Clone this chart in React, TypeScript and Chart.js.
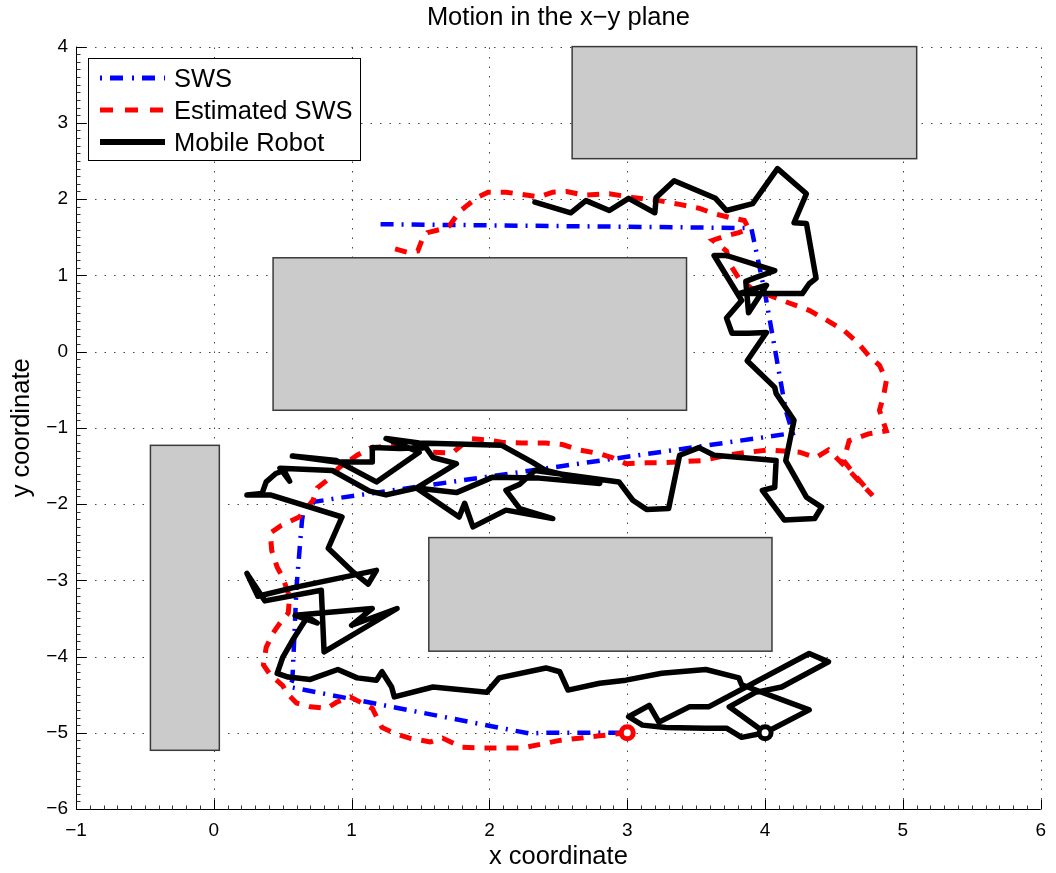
import React, { useEffect, useRef } from 'react';
import { Chart, registerables } from 'chart.js';

Chart.register(...registerables);

const FONT = "'Liberation Sans', Arial, Helvetica, sans-serif";

const xTicks = [-1, 0, 1, 2, 3, 4, 5, 6];
const yTicks = [-6, -5, -4, -3, -2, -1, 0, 1, 2, 3, 4];

// obstacles: [xMin, xMax, yMin, yMax]
const obstacles = [
  [2.6, 5.1, 2.53, 4.0],
  [0.43, 3.43, -0.77, 1.23],
  [-0.46, 0.04, -5.23, -1.23],
  [1.56, 4.05, -3.93, -2.44],
];

const swsPath = [
  [1.21, 1.67], [3.9, 1.62], [4.0, 0.76], [4.15, -0.77], [4.2, -1.07],
  [0.91, -1.92], [0.66, -1.99], [0.64, -2.21], [0.6, -3.09], [0.57, -4.31],
  [0.55, -4.4], [2.29, -5.01], [2.4, -5.0], [3.0, -5.0],
];

const estPath = [
  [3.0, -5.0], [2.8, -5.04], [2.51, -5.1], [2.24, -5.2], [2.12, -5.2], [1.95, -5.2], [1.8, -5.19],
  [1.66, -5.07], [1.57, -5.12], [1.42, -5.07], [1.3, -5.0], [1.22, -4.93], [1.15, -4.68], [0.99, -4.53],
  [0.89, -4.6], [0.82, -4.68], [0.7, -4.66], [0.6, -4.61], [0.53, -4.48], [0.5, -4.38], [0.41, -4.24],
  [0.36, -4.11], [0.38, -3.88], [0.43, -3.69], [0.48, -3.56], [0.54, -3.43], [0.55, -3.22], [0.5, -2.96],
  [0.46, -2.83], [0.42, -2.61], [0.41, -2.38], [0.49, -2.28], [0.62, -2.17], [0.72, -1.95], [0.75, -1.79],
  [0.82, -1.69], [0.91, -1.52], [1.04, -1.36], [1.13, -1.27], [1.28, -1.23], [1.4, -1.19], [1.59, -1.32],
  [1.73, -1.33], [1.86, -1.14], [1.98, -1.16], [2.09, -1.19], [2.24, -1.2], [2.41, -1.2], [2.53, -1.22],
  [2.65, -1.29], [2.8, -1.34], [2.89, -1.39], [2.99, -1.47], [3.14, -1.46], [3.25, -1.46], [3.54, -1.43],
  [3.72, -1.36], [3.88, -1.32], [4.03, -1.29], [4.25, -1.32], [4.37, -1.39], [4.46, -1.29], [4.62, -1.58],
  [4.78, -1.89], [4.67, -1.66], [4.57, -1.43], [4.61, -1.17], [4.75, -1.08], [4.88, -1.04], [4.83, -0.77],
  [4.86, -0.58], [4.88, -0.38], [4.83, -0.18], [4.75, -0.05], [4.67, 0.12], [4.57, 0.28], [4.45, 0.41],
  [4.32, 0.54], [4.17, 0.64], [4.03, 0.74], [3.9, 0.83], [3.81, 0.96], [3.75, 1.13], [3.72, 1.32],
  [3.62, 1.46], [3.7, 1.51], [3.81, 1.56], [3.88, 1.61], [3.85, 1.72], [3.76, 1.75], [3.63, 1.81],
  [3.52, 1.88], [3.38, 1.93], [3.23, 1.98], [3.04, 2.02], [2.87, 2.07], [2.69, 2.05], [2.56, 2.1],
  [2.46, 2.09], [2.36, 2.03], [2.24, 2.06], [2.12, 2.09], [1.99, 2.09], [1.91, 2.02], [1.84, 1.92],
  [1.78, 1.83], [1.71, 1.65], [1.64, 1.6], [1.55, 1.56], [1.51, 1.46], [1.48, 1.32], [1.41, 1.3],
  [1.31, 1.35], [1.25, 1.32],
];

const robotPath = [
  [4.0, -5.0], [3.83, -5.06], [3.72, -4.94], [3.57, -4.94], [3.28, -4.93], [3.11, -4.9], [3.01, -4.79],
  [3.16, -4.64], [3.23, -4.86], [3.45, -4.66], [3.59, -4.66], [4.32, -3.96], [4.46, -4.07], [4.12, -4.4],
  [3.93, -4.47], [3.74, -4.66], [4.0, -5.0], [4.32, -4.7], [3.83, -4.37], [3.81, -4.28], [3.57, -4.17],
  [3.25, -4.22], [2.99, -4.31], [2.8, -4.35], [2.57, -4.44], [2.51, -4.2], [2.41, -4.15], [2.07, -4.28],
  [1.98, -4.47], [1.59, -4.4], [1.31, -4.53], [1.29, -4.4], [1.22, -4.2], [1.18, -4.31], [1.04, -4.28],
  [0.9, -4.17], [0.7, -4.3], [0.54, -4.27], [0.46, -4.22], [0.5, -4.01], [0.57, -3.79], [0.64, -3.59],
  [0.68, -3.48], [0.75, -3.56], [0.59, -3.46], [1.15, -3.37], [1.0, -3.59], [1.33, -3.37], [0.8, -3.94],
  [0.78, -3.13], [0.37, -3.27], [0.24, -2.91], [0.32, -3.21], [0.57, -3.1], [1.18, -2.87], [1.12, -3.05],
  [1.01, -2.89], [0.83, -2.58], [0.93, -2.17], [0.41, -1.88], [0.24, -1.88], [0.35, -1.86], [0.38, -1.71],
  [0.45, -1.6], [0.51, -1.56], [0.55, -1.7], [0.48, -1.53], [0.86, -1.56], [1.13, -1.83], [1.25, -1.88],
  [1.47, -1.79], [1.76, -1.47], [1.59, -1.39], [1.54, -1.26], [1.35, -1.27], [1.15, -1.26], [1.15, -1.45],
  [0.89, -1.45], [0.57, -1.37], [0.89, -1.43], [1.18, -1.71], [1.49, -1.32], [1.25, -1.14], [1.49, -1.2],
  [2.09, -1.23], [2.31, -1.45], [2.41, -1.56], [2.8, -1.73], [2.36, -1.66], [2.02, -1.65], [1.76, -1.85],
  [1.47, -1.79], [1.78, -2.17], [1.82, -1.99], [1.88, -2.3], [2.12, -2.08], [2.46, -2.19], [2.22, -2.06],
  [2.12, -1.82], [2.22, -1.74], [2.33, -1.56], [2.94, -1.71], [3.04, -1.95], [3.14, -2.07], [3.3, -2.06],
  [3.38, -1.36], [3.52, -1.26], [3.63, -1.36], [4.08, -1.43], [4.07, -1.78], [3.98, -1.82], [4.14, -2.21],
  [4.36, -2.19], [4.41, -2.04], [4.3, -1.91], [4.15, -1.43], [4.21, -0.9], [4.08, -0.55], [4.07, -0.47],
  [3.87, -0.12], [4.01, 0.25], [3.88, 0.24], [3.76, 0.24], [3.72, 0.44], [3.83, 0.67], [3.63, 1.26],
  [3.72, 1.26], [4.07, 1.06], [3.93, 0.97], [3.86, 0.92], [3.88, 0.51], [4.01, 0.87], [3.81, 0.76],
  [4.27, 0.76], [4.32, 0.89], [4.37, 0.96], [4.3, 1.68], [4.21, 1.69], [4.3, 2.07], [4.09, 2.4],
  [3.91, 1.94], [3.72, 1.85], [3.64, 2.01], [3.34, 2.24], [3.21, 2.02], [3.2, 1.82], [3.01, 2.01],
  [2.87, 1.85], [2.7, 1.98], [2.59, 1.82], [2.33, 1.96],
];

const estStart = [[3.0, -5.0]];
const robotStart = [[4.0, -5.0]];

const legendItems = [
  { label: 'SWS', color: '#0000ff', width: 5, dash: [2, 8, 13, 9] },
  { label: 'Estimated SWS', color: '#ff0000', width: 5, dash: [13, 12] },
  { label: 'Mobile Robot', color: '#000000', width: 6, dash: [] as number[] },
];

const toPts = (arr: number[][]) => arr.map(([x, y]) => ({ x, y }));
const fmt = (v: number | string) => {
  const n = Number(v);
  return n < 0 ? '\u2212' + Math.abs(n) : String(n);
};

const decorPlugin = {
  id: 'decor',
  beforeDraw(chart: any) {
    const { ctx, width, height } = chart;
    ctx.save();
    ctx.fillStyle = '#ffffff';
    ctx.fillRect(0, 0, width, height);
    ctx.restore();
  },
  beforeDatasetsDraw(chart: any) {
    const { ctx, chartArea: a, scales } = chart;
    const xs = scales.x;
    const ys = scales.y;
    ctx.save();
    ctx.strokeStyle = '#444444';
    ctx.lineWidth = 1;
    ctx.setLineDash([1.5, 8]);
    xTicks.slice(1).forEach((v) => {
      const px = Math.round(xs.getPixelForValue(v)) + 0.5;
      ctx.beginPath();
      ctx.moveTo(px, a.bottom);
      ctx.lineTo(px, a.top);
      ctx.stroke();
    });
    yTicks.slice(1).forEach((v) => {
      const py = Math.round(ys.getPixelForValue(v)) + 0.5;
      ctx.beginPath();
      ctx.moveTo(a.left, py);
      ctx.lineTo(a.right, py);
      ctx.stroke();
    });
    ctx.setLineDash([]);
    obstacles.forEach(([x1, x2, y1, y2]) => {
      const l = xs.getPixelForValue(x1);
      const r = xs.getPixelForValue(x2);
      const t = ys.getPixelForValue(y2);
      const b = ys.getPixelForValue(y1);
      ctx.fillStyle = '#cbcbcb';
      ctx.fillRect(l, t, r - l, b - t);
      ctx.strokeStyle = '#3a3a3a';
      ctx.lineWidth = 1.5;
      ctx.strokeRect(l, t, r - l, b - t);
    });
    ctx.restore();
  },
  afterDatasetsDraw(chart: any) {
    const { ctx, chartArea: a, scales } = chart;
    const xs = scales.x;
    const ys = scales.y;
    ctx.save();
    ctx.strokeStyle = '#000000';
    ctx.lineWidth = 1;
    ctx.setLineDash([]);
    const L = Math.round(a.left) + 0.5;
    const B = Math.round(a.bottom) + 0.5;
    ctx.beginPath();
    ctx.moveTo(L, a.top);
    ctx.lineTo(L, B);
    ctx.lineTo(a.right, B);
    ctx.stroke();
    xTicks.forEach((v) => {
      const px = Math.round(xs.getPixelForValue(v)) + 0.5;
      ctx.beginPath();
      ctx.moveTo(px, B);
      ctx.lineTo(px, B - 10);
      ctx.stroke();
    });
    yTicks.forEach((v) => {
      const py = Math.round(ys.getPixelForValue(v)) + 0.5;
      ctx.beginPath();
      ctx.moveTo(L, py);
      ctx.lineTo(L + 10, py);
      ctx.stroke();
    });
    ctx.strokeStyle = '#333333';
    for (let i = 0; i <= 70; i++) {
      if (i % 10 === 0) continue;
      const px = Math.round(xs.getPixelForValue(-1 + i / 10)) + 0.5;
      ctx.beginPath();
      ctx.moveTo(px, B);
      ctx.lineTo(px, B - 4);
      ctx.stroke();
    }
    for (let i = 0; i <= 100; i++) {
      if (i % 10 === 0) continue;
      const py = Math.round(ys.getPixelForValue(-6 + i / 10)) + 0.5;
      ctx.beginPath();
      ctx.moveTo(L, py);
      ctx.lineTo(L + 4, py);
      ctx.stroke();
    }
    ctx.restore();
  },
  afterDraw(chart: any) {
    const { ctx } = chart;
    ctx.save();
    const bx = 88.5, by = 58.5, bw = 272, bh = 102;
    ctx.fillStyle = '#ffffff';
    ctx.fillRect(bx, by, bw, bh);
    ctx.strokeStyle = '#000000';
    ctx.lineWidth = 1;
    ctx.strokeRect(bx, by, bw, bh);
    const rows = [78, 110, 142];
    legendItems.forEach((it, i) => {
      const y = rows[i];
      ctx.beginPath();
      ctx.setLineDash(it.dash);
      ctx.strokeStyle = it.color;
      ctx.lineWidth = it.width;
      ctx.lineCap = 'butt';
      ctx.moveTo(100, y);
      ctx.lineTo(165, y);
      ctx.stroke();
      ctx.setLineDash([]);
      ctx.fillStyle = '#000000';
      ctx.font = `25.5px ${FONT}`;
      ctx.textAlign = 'left';
      ctx.textBaseline = 'alphabetic';
      ctx.fillText(it.label, 174, y + 9);
    });
    ctx.restore();
  },
};

export default function App() {
  const ref = useRef<HTMLCanvasElement>(null);
  useEffect(() => {
    if (!ref.current) return;
    const tickFont = { family: FONT, size: 19 };
    const labelFont = { family: FONT, size: 25.5 };
    const chart = new Chart(ref.current, {
      type: 'scatter',
      data: {
        datasets: [
          {
            label: 'start estimated',
            data: toPts(estStart),
            pointRadius: 6,
            pointBorderWidth: 5,
            pointBorderColor: '#ff0000',
            pointBackgroundColor: '#ffffff',
            order: 0,
          },
          {
            label: 'start robot',
            data: toPts(robotStart),
            pointRadius: 6,
            pointBorderWidth: 5,
            pointBorderColor: '#000000',
            pointBackgroundColor: '#ffffff',
            order: 1,
          },
          {
            label: 'Mobile Robot',
            data: toPts(robotPath),
            showLine: true,
            borderColor: '#000000',
            borderWidth: 5.5,
            borderJoinStyle: 'round',
            borderCapStyle: 'round',
            pointRadius: 0,
            order: 2,
          },
          {
            label: 'Estimated SWS',
            data: toPts(estPath),
            showLine: true,
            borderColor: '#ff0000',
            borderWidth: 5,
            borderDash: [12, 10],
            pointRadius: 0,
            order: 3,
          },
          {
            label: 'SWS',
            data: toPts(swsPath),
            showLine: true,
            borderColor: '#0000ff',
            borderWidth: 4.5,
            borderDash: [13, 8, 2, 8],
            pointRadius: 0,
            order: 4,
          },
        ],
      } as any,
      options: {
        responsive: false,
        animation: false,
        devicePixelRatio: 1,
        layout: { padding: { left: 0, right: 14, top: 0, bottom: 0 } },
        plugins: {
          legend: { display: false },
          tooltip: { enabled: false },
          title: {
            display: true,
            fullSize: false,
            text: 'Motion in the x\u2212y plane',
            color: '#000000',
            font: { ...labelFont, weight: 'normal' },
            padding: { top: 3, bottom: 13 },
          },
        },
        scales: {
          x: {
            type: 'linear',
            min: -1,
            max: 6,
            ticks: { stepSize: 1, color: '#000000', font: tickFont, padding: 10, maxRotation: 0, callback: fmt },
            grid: { display: false, drawTicks: false },
            border: { display: false },
            title: { display: true, text: 'x coordinate', color: '#000000', font: labelFont, padding: { top: 0, bottom: 1 } },
            afterFit: (s: any) => { s.height = 64; },
          },
          y: {
            type: 'linear',
            min: -6,
            max: 4,
            ticks: { stepSize: 1, color: '#000000', font: tickFont, padding: 8, callback: fmt },
            grid: { display: false, drawTicks: false },
            border: { display: false },
            title: { display: true, text: 'y coordinate', color: '#000000', font: labelFont, padding: { top: 7, bottom: 0 } },
            afterFit: (s: any) => { s.width = 76; },
          },
        },
      } as any,
      plugins: [decorPlugin],
    });
    return () => chart.destroy();
  }, []);
  return (
    <div style={{ position: 'absolute', left: 0, top: 0, width: 1056, height: 873, background: '#ffffff' }}>
      <canvas ref={ref} width={1056} height={873} style={{ display: 'block', width: 1056, height: 873 }} />
    </div>
  );
}
